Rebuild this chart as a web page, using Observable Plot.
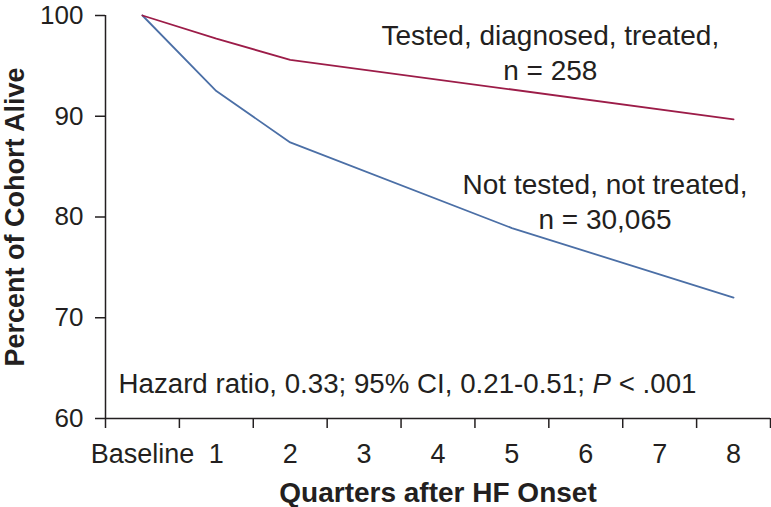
<!DOCTYPE html>
<html>
<head>
<meta charset="utf-8">
<script src="https://cdn.jsdelivr.net/npm/d3@7"></script>
<script src="https://cdn.jsdelivr.net/npm/@observablehq/plot@0.6"></script>
<style>
  html, body { margin: 0; padding: 0; background: #ffffff; }
  #chart svg { display: block; }
</style>
</head>
<body>
<div id="chart"></div>
<script>
// Categories along the x axis (index 0 = Baseline)
const quarterLabels = ["Baseline", "1", "2", "3", "4", "5", "6", "7", "8"];
const yTicks = [60, 70, 80, 90, 100];

// Tested, diagnosed, treated (n = 258)
const treatedQuarter = [0, 1, 2, 8];
const treatedPct = [100, 97.7, 95.6, 89.7];

// Not tested, not treated (n = 30,065)
const untreatedQuarter = [0, 1, 2, 5, 8];
const untreatedPct = [100, 92.5, 87.4, 78.9, 72.0];

const seriesLabels = ["Tested, diagnosed, treated,\nn = 258", "Not tested, not treated,\nn = 30,065"];
const labelQuarter = [5.52, 6.26];
const labelPct = [96.44, 81.65];
const statsText = "Hazard ratio, 0.33; 95% CI, 0.21-0.51; P < .001";
const xTitle = "Quarters after HF Onset";
const yTitle = "Percent of Cohort Alive";

const RED = "#9c1c48";
const BLUE = "#4b6fa6";
const INK = "#231f20";
const FONT = "'Liberation Sans', Arial, Helvetica, sans-serif";

const treated = treatedQuarter.map((q, i) => ({q, pct: treatedPct[i]}));
const untreated = untreatedQuarter.map((q, i) => ({q, pct: untreatedPct[i]}));
const labels = seriesLabels.map((t, i) => ({t, q: labelQuarter[i], pct: labelPct[i]}));
const boundaries = d3.range(quarterLabels.length + 1).map(i => i - 0.5);

const chart = Plot.plot({
  width: 771,
  height: 507,
  marginLeft: 105,
  marginRight: 1,
  marginTop: 15,
  marginBottom: 89,
  style: {fontFamily: FONT, color: INK, background: "#ffffff", overflow: "visible"},
  x: {type: "linear", domain: [-0.5, quarterLabels.length - 0.5], axis: null},
  y: {domain: [60, 100], axis: null},
  marks: [
    Plot.axisY({ticks: yTicks, tickSize: 10, tickPadding: 12, fontSize: 26, label: null, stroke: INK, strokeWidth: 1.5}),
    Plot.axisX({ticks: boundaries, tickSize: 10, tickFormat: () => "", label: null, stroke: INK, strokeWidth: 1.5}),
    Plot.axisX({ticks: d3.range(quarterLabels.length), tickSize: 0, tickPadding: 25, fontSize: 27,
                tickFormat: i => quarterLabels[i], label: null}),
    Plot.ruleX([-0.5], {stroke: INK, strokeWidth: 1.5}),
    Plot.ruleY([60], {stroke: INK, strokeWidth: 1.5}),
    Plot.line(untreated, {x: "q", y: "pct", stroke: BLUE, strokeWidth: 1.8}),
    Plot.line(treated, {x: "q", y: "pct", stroke: RED, strokeWidth: 1.8}),
    Plot.text(labels, {x: "q", y: "pct", text: "t", fontSize: 28, lineHeight: 1.25,
                       textAnchor: "middle", lineAnchor: "middle", fill: INK}),
    Plot.text([statsText], {x: -0.324, y: 63.44, text: d => d, fontSize: 27.7,
                            textAnchor: "start", lineAnchor: "middle", fill: INK}),
    Plot.text([xTitle], {frameAnchor: "bottom", dy: 75, text: d => d, fontSize: 28,
                         fontWeight: "bold", textAnchor: "middle", lineAnchor: "middle", fill: INK}),
    Plot.text([yTitle], {frameAnchor: "left", dx: -90, rotate: -90, text: d => d, fontSize: 27,
                         fontWeight: "bold", textAnchor: "middle", lineAnchor: "middle", fill: INK})
  ]
});

document.getElementById("chart").appendChild(chart);

// italicize the P in the statistics line
const statsEl = [...chart.querySelectorAll("text")].find(e => e.textContent === statsText);
if (statsEl) {
  const idx = statsText.indexOf("P <");
  statsEl.textContent = statsText.slice(0, idx);
  const it = document.createElementNS("http://www.w3.org/2000/svg", "tspan");
  it.setAttribute("font-style", "italic");
  it.textContent = "P";
  statsEl.appendChild(it);
  statsEl.appendChild(document.createTextNode(statsText.slice(idx + 1)));
}
</script>
</body>
</html>
